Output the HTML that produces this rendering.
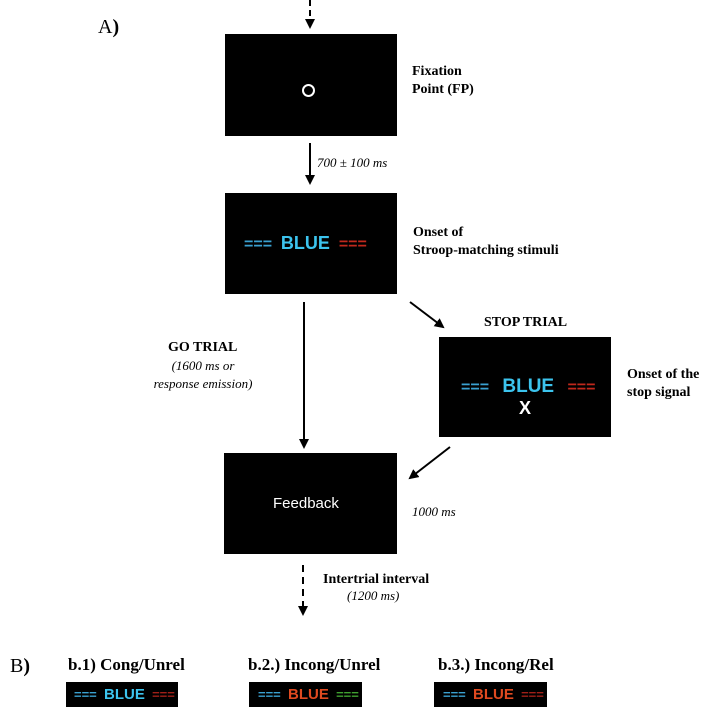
<!DOCTYPE html>
<html><head><style>
body{margin:0;width:709px;height:716px;background:#fff;position:relative;overflow:hidden;font-family:"Liberation Serif",serif}
.b{position:absolute;background:#000}
.t{position:absolute;color:#000;font-weight:bold;font-size:14px;line-height:18px;white-space:nowrap}
.s{position:absolute;font-family:"Liberation Sans",sans-serif;font-weight:bold;white-space:nowrap}
</style></head><body>
<svg width="709" height="716" style="position:absolute;left:0;top:0">
<defs><marker id="a" markerWidth="10" markerHeight="10" refX="8" refY="5" orient="auto" markerUnits="userSpaceOnUse"><path d="M0,0 L10,5 L0,10z" fill="#000"/></marker></defs>
<g stroke="#000" stroke-width="2" fill="none">
<line x1="310" y1="0" x2="310" y2="27" stroke-dasharray="6,4" marker-end="url(#a)"/>
<line x1="310" y1="143" x2="310" y2="183" marker-end="url(#a)"/>
<line x1="304" y1="302" x2="304" y2="447" marker-end="url(#a)"/>
<line x1="410" y1="302" x2="443" y2="327" marker-end="url(#a)"/>
<line x1="450" y1="447" x2="410" y2="478" marker-end="url(#a)"/>
<line x1="303" y1="565" x2="303" y2="614" stroke-dasharray="7,5" marker-end="url(#a)"/>
</g></svg>
<div style="position:absolute;left:98px;top:16px;font-size:20px">A<b>)</b></div>
<div style="position:absolute;left:10px;top:655px;font-size:20px">B<b>)</b></div>
<div class="b" style="left:225px;top:34px;width:172px;height:102px"></div>
<div style="position:absolute;left:302px;top:84px;width:9px;height:9px;border:2px solid #fff;border-radius:50%"></div>
<div class="t" style="left:412px;top:63px">Fixation<br>Point (FP)</div>
<div style="position:absolute;left:317px;top:155px;font-style:italic;font-size:13px">700 ± 100 ms</div>
<div class="b" style="left:225px;top:193px;width:172px;height:101px"></div>
<div class="s" style="left:244px;top:233px;font-size:16px"><span style="color:#3aa0d0">===</span>&nbsp; <span style="color:#3cc4ee;font-size:18px">BLUE</span> &nbsp;<span style="color:#c0281c">===</span></div>
<div class="t" style="left:413px;top:224px">Onset of<br>Stroop-matching stimuli</div>
<div class="t" style="left:168px;top:339px">GO TRIAL</div>
<div style="position:absolute;left:138px;top:357px;font-style:italic;font-size:13px;line-height:18px;text-align:center;width:130px">(1600 ms or<br>response emission)</div>
<div class="t" style="left:484px;top:314px">STOP TRIAL</div>
<div class="b" style="left:439px;top:337px;width:172px;height:100px"></div>
<div class="s" style="left:461px;top:376px;font-size:16px"><span style="color:#3aa0d0">===</span>&nbsp;&nbsp; <span style="color:#3cc4ee;font-size:19px">BLUE</span> &nbsp;&nbsp;<span style="color:#c0281c">===</span></div>
<div class="s" style="left:519px;top:398px;color:#fff;font-size:18px">X</div>
<div class="t" style="left:627px;top:366px">Onset of the<br>stop signal</div>
<div class="b" style="left:224px;top:453px;width:173px;height:101px"></div>
<div class="s" style="left:273px;top:494px;color:#fff;font-size:15px;font-weight:normal;line-height:20px">Feedback</div>
<div style="position:absolute;left:412px;top:504px;font-style:italic;font-size:13px">1000 ms</div>
<div class="t" style="left:323px;top:571px">Intertrial interval</div>
<div style="position:absolute;left:347px;top:588px;font-style:italic;font-size:13px">(1200 ms)</div>
<div class="t" style="left:68px;top:655px;font-size:17px;line-height:20px">b.1) Cong/Unrel</div>
<div class="t" style="left:248px;top:655px;font-size:17px;line-height:20px">b.2.) Incong/Unrel</div>
<div class="t" style="left:438px;top:655px;font-size:17px;line-height:20px">b.3.) Incong/Rel</div>
<div class="b" style="left:66px;top:682px;width:112px;height:25px"></div>
<div class="s" style="left:74px;top:686px;font-size:13px"><span style="color:#3aa0d0">===</span>&nbsp; <span style="color:#3cc4ee;font-size:15px">BLUE</span> &nbsp;<span style="color:#a02018">===</span></div>
<div class="b" style="left:249px;top:682px;width:113px;height:25px"></div>
<div class="s" style="left:258px;top:686px;font-size:13px"><span style="color:#3aa0d0">===</span>&nbsp; <span style="color:#e04a20;font-size:15px">BLUE</span> &nbsp;<span style="color:#40a030">===</span></div>
<div class="b" style="left:434px;top:682px;width:113px;height:25px"></div>
<div class="s" style="left:443px;top:686px;font-size:13px"><span style="color:#3aa0d0">===</span>&nbsp; <span style="color:#e04a20;font-size:15px">BLUE</span> &nbsp;<span style="color:#a02018">===</span></div>
</body></html>
